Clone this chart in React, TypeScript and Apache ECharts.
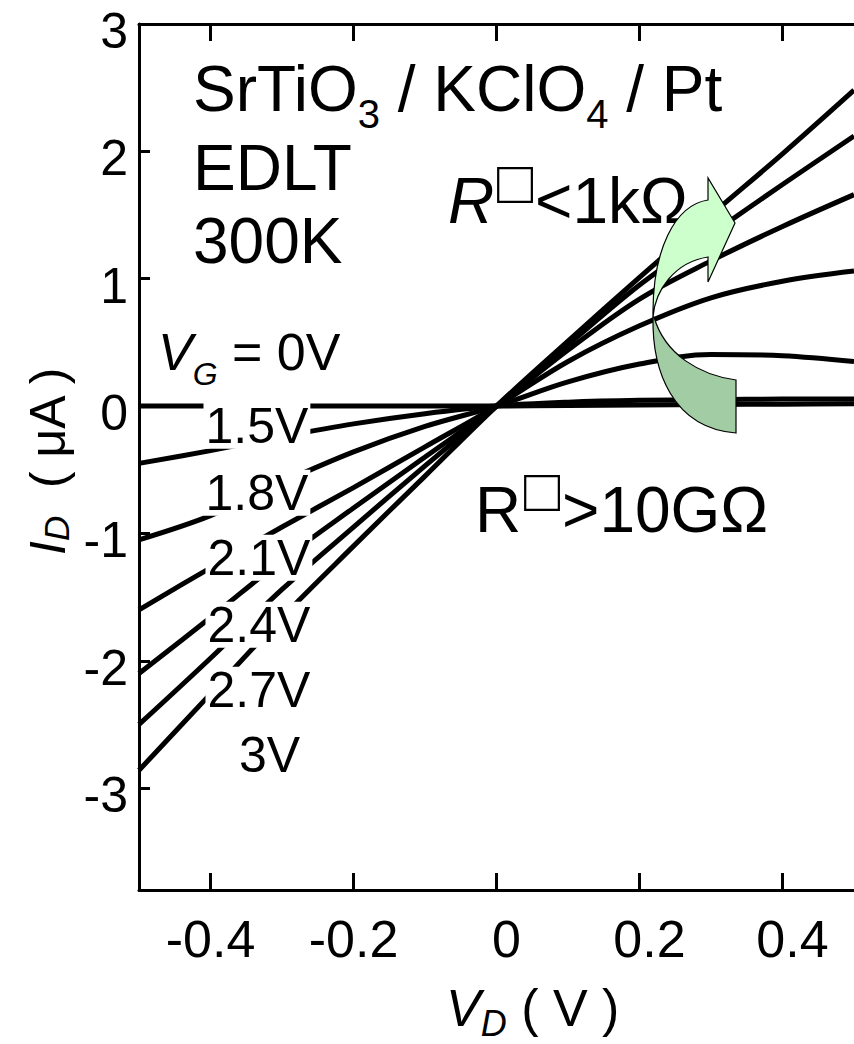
import React, { useEffect, useRef } from 'react';
import * as echarts from 'echarts';

const W = 854;
const H = 1044;
const FONT = '"Liberation Sans", Arial, Helvetica, sans-serif';

// ---- data ----
const vd = [-0.5, -0.4, -0.3, -0.2, -0.1, 0, 0.1, 0.2, 0.3, 0.4, 0.5];
const id0V = [0, 0, 0, 0, 0, 0, 0.004, 0.008, 0.012, 0.015, 0.018];
const id1p5V = [-0.45, -0.35, -0.24, -0.14, -0.06, 0, 0.03, 0.045, 0.05, 0.055, 0.055];
const id1p8V = [-1.05, -0.86, -0.6, -0.36, -0.16, 0, 0.19, 0.33, 0.405, 0.395, 0.35];
const id2p1V = [-1.6, -1.27, -0.95, -0.64, -0.32, 0, 0.35, 0.63, 0.85, 0.98, 1.06];
const id2p4V = [-2.1, -1.66, -1.21, -0.8, -0.4, 0, 0.44, 0.84, 1.14, 1.41, 1.66];
const id2p7V = [-2.5, -1.98, -1.44, -0.95, -0.47, 0, 0.48, 0.95, 1.35, 1.74, 2.12];
const id3V = [-2.86, -2.26, -1.66, -1.1, -0.55, 0, 0.51, 1.01, 1.5, 1.98, 2.48];
const curves = [id0V, id1p5V, id1p8V, id2p1V, id2p4V, id2p7V, id3V];
const curveNames = ['0V', '1.5V', '1.8V', '2.1V', '2.4V', '2.7V', '3V'];

const xTicks = [-0.4, -0.2, 0, 0.2, 0.4];
const xTickLabels = ['-0.4', '-0.2', '0', '0.2', '0.4'];
const yTicks = [-3, -2, -1, 0, 1, 2, 3];
const yTickLabels = ['-3', '-2', '-1', '0', '1', '2', '3'];

const gateLabels = ['1.5V', '1.8V', '2.1V', '2.4V', '2.7V', '3V'];

// ---- text helpers ----
let mctx: CanvasRenderingContext2D | null = null;
function textWidth(t: string, font: string): number {
  if (!mctx) mctx = document.createElement('canvas').getContext('2d');
  mctx!.font = font;
  return mctx!.measureText(t).width;
}
type Seg = { t: string; fs: number; it?: boolean; dy?: number; dx?: number };
const CENTRAL = 0.3465;
function textEl(t: string, x: number, base: number, fs: number, it = false, extra: any = {}, z = 10) {
  return {
    type: 'text',
    x,
    y: base - CENTRAL * fs,
    z,
    silent: true,
    style: {
      text: t,
      fontSize: fs,
      fontFamily: FONT,
      fontStyle: it ? 'italic' : 'normal',
      fill: '#000',
      textAlign: 'left',
      textVerticalAlign: 'middle',
      align: 'left',
      verticalAlign: 'middle',
      ...extra,
    },
  };
}
function runText(x0: number, base: number, segs: Seg[], z = 10) {
  const out: any[] = [];
  let x = x0;
  for (const s of segs) {
    x += s.dx || 0;
    out.push(textEl(s.t, x, base + (s.dy || 0), s.fs, !!s.it, {}, z));
    x += textWidth(s.t, `${s.it ? 'italic' : 'normal'} ${s.fs}px ${FONT}`);
  }
  return out;
}
function squareEl(cx: number, cy: number, fs: number) {
  return {
    type: 'text',
    x: cx,
    y: cy,
    z: 10,
    silent: true,
    style: {
      text: '□',
      fontSize: fs,
      fontFamily: FONT,
      fill: '#000',
      textAlign: 'center',
      align: 'center',
      textVerticalAlign: 'middle',
      verticalAlign: 'middle',
    },
  };
}

const ARROW_LIGHT =
  'M735 223 L708 178 L708 200 C675 205 652 250 653 317 C655 290 675 262 708 257 L708 282 Z';
const ARROW_DARK = 'M653 317 C652 370 672 428 736 433 L736 380 C700 375 665 355 654 317 Z';

export default function App() {
  const ref = useRef<HTMLDivElement>(null);
  useEffect(() => {
    document.body.style.margin = '0';
    if (!ref.current) return;
    echarts.graphic.registerShape('arrowLight', echarts.graphic.extendPath(ARROW_LIGHT, {}));
    echarts.graphic.registerShape('arrowDark', echarts.graphic.extendPath(ARROW_DARK, {}));
    const chart = echarts.init(ref.current, undefined, { renderer: 'svg', width: W, height: H });

    const axisLineStyle = { color: '#000', width: 3 };
    const graphics: any[] = [];

    // title block
    graphics.push(
      ...runText(193, 111, [
        { t: 'SrTiO', fs: 64 },
        { t: '3', fs: 40, dy: 17 },
        { t: ' / KClO', fs: 64 },
        { t: '4', fs: 40, dy: 17 },
        { t: ' / Pt', fs: 64 },
      ])
    );
    graphics.push(textEl('EDLT', 193, 190, 64));
    graphics.push(textEl('300K', 193, 263, 64));

    // V_G = 0V
    graphics.push(
      ...runText(158, 370, [
        { t: 'V', fs: 52, it: true },
        { t: 'G', fs: 32, it: true, dy: 15 },
        { t: ' = 0V', fs: 52 },
      ])
    );

    // gate-voltage labels with white boxes
    const gx = [203.5, 203.5, 205.5, 205.5, 205.5, 237];
    const gb = [443, 510, 575, 642, 707, 772];
    gateLabels.forEach((g, i) => {
      graphics.push(
        textEl(g, gx[i], gb[i], 50, false, { backgroundColor: '#fff', lineHeight: 46, padding: [0, 2, 0, 2] }, 10)
      );
    });

    // R annotations
    graphics.push(textEl('R', 448, 223, 64, true));
    graphics.push(squareEl(515, 182, 60));
    graphics.push(textEl('<1kΩ', 535, 223, 64));
    graphics.push(textEl('R', 475, 532, 64));
    graphics.push(squareEl(542, 490, 60));
    graphics.push(textEl('>10GΩ', 562, 532, 64));

    // arrow
    graphics.push({
      type: 'arrowDark',
      x: 0,
      y: 0,
      scaleX: 1,
      scaleY: 1,
      z: 20,
      silent: true,
      style: { fill: '#A2CDA4', stroke: '#000', lineWidth: 1.2 },
    });
    graphics.push({
      type: 'arrowLight',
      x: 0,
      y: 0,
      scaleX: 1,
      scaleY: 1,
      z: 21,
      silent: true,
      style: { fill: '#CCFFCC', stroke: '#000', lineWidth: 1.2 },
    });

    // axis titles
    graphics.push(
      ...runText(446, 1026, [
        { t: 'V', fs: 52, it: true },
        { t: 'D', fs: 36, it: true, dy: 10 },
        { t: ' ( V )', fs: 52 },
      ])
    );
    graphics.push({
      type: 'group',
      x: 65,
      y: 555,
      rotation: Math.PI / 2,
      children: runText(0, 0, [
        { t: 'I', fs: 50, it: true },
        { t: 'D', fs: 35, it: true, dy: 4 },
        { t: '  ( μA )', fs: 50 },
      ]),
    });

    const xAxisCommon = {
      type: 'value',
      min: -0.5,
      max: 0.5,
      axisLine: { show: true, onZero: false, lineStyle: axisLineStyle },
      axisTick: { show: true, inside: true, length: 17, customValues: xTicks, lineStyle: axisLineStyle },
      splitLine: { show: false },
    };

    const option: any = {
      animation: false,
      backgroundColor: '#fff',
      grid: { left: 139, right: -7, top: 24, bottom: 154, containLabel: false },
      xAxis: [
        {
          ...xAxisCommon,
          position: 'bottom',
          axisLabel: {
            show: true,
            customValues: xTicks,
            margin: 23,
            color: '#000',
            fontSize: 52,
            fontFamily: FONT,
            formatter: (v: number) => {
              const k = xTicks.findIndex((t) => Math.abs(t - v) < 1e-9);
              const s = k >= 0 ? xTickLabels[k] : String(v);
              return v < 0 ? s : `{p|${s}}`;
            },
            rich: { p: { padding: [0, 0, 0, 20], fontSize: 52, fontFamily: FONT, color: '#000' } },
          },
        },
        { ...xAxisCommon, position: 'top', axisLabel: { show: false } },
      ],
      yAxis: {
        type: 'value',
        min: -3.8,
        max: 3,
        axisLine: { show: true, onZero: false, lineStyle: axisLineStyle },
        axisTick: { show: true, inside: true, length: 11, customValues: yTicks, lineStyle: axisLineStyle },
        axisLabel: {
          show: true,
          customValues: yTicks,
          margin: 11,
          color: '#000',
          fontSize: 50,
          fontFamily: FONT,
          verticalAlign: 'top',
          lineHeight: 14,
          formatter: (v: number) => {
            const k = yTicks.findIndex((t) => Math.abs(t - v) < 1e-9);
            return k >= 0 ? yTickLabels[k] : String(v);
          },
        },
        splitLine: { show: false },
      },
      series: curves.map((c, i) => ({
        name: curveNames[i],
        type: 'line',
        xAxisIndex: 0,
        data: vd.map((v, j) => [v, c[j]]),
        showSymbol: false,
        symbol: 'none',
        smooth: 0.35,
        lineStyle: { color: '#000', width: 5 },
        z: 2,
      })),
      graphic: { elements: graphics },
    };
    chart.setOption(option);
    return () => chart.dispose();
  }, []);
  return <div ref={ref} style={{ width: W, height: H }} />;
}
